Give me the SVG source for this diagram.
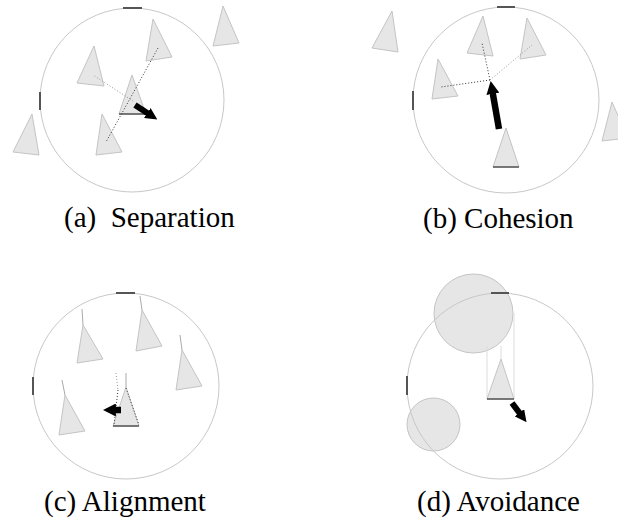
<svg xmlns="http://www.w3.org/2000/svg" width="618" height="522" viewBox="0 0 618 522">
<style>
.rng{fill:none;stroke:#c8c8c8;stroke-width:1}
.boid{fill:#e6e6e6;stroke:#c4c4c4;stroke-width:1}
.obs{fill:#e6e6e6;stroke:#c4c4c4;stroke-width:1}
.base{stroke:#555;stroke-width:1.5}
.tick{stroke:#555;stroke-width:2}
.dot{fill:none;stroke:#333;stroke-width:1;stroke-dasharray:1 2}
.dotl{fill:none;stroke:#999;stroke-width:1;stroke-dasharray:1 2}
.tail{stroke:#aaa;stroke-width:1}
.feel{stroke:#ddd;stroke-width:1}
.arr{stroke:#000;stroke-width:6;marker-end:url(#ah)}
.lbl{font-family:'Liberation Serif','DejaVu Serif',serif;font-size:29px;fill:#000;white-space:pre}
</style>
<defs>
<marker id="ah" viewBox="0 0 10 10" refX="3" refY="5" markerWidth="2" markerHeight="2" orient="auto" markerUnits="strokeWidth">
<path d="M0,0 L10,5 L0,10 z" fill="#000"/>
</marker>
</defs>

<g id="panel-a">
<circle class="rng" cx="132" cy="100" r="92"/>
<line class="tick" x1="123" y1="8" x2="142" y2="8"/>
<line class="tick" x1="40" y1="92" x2="40" y2="110"/>
<g id="a-boid1"><polygon class="boid" points="94,46 77,83 104,86"/></g>
<g id="a-boid2"><polygon class="boid" points="153,19 146,61 172,57"/></g>
<g id="a-boid3"><polygon class="boid" points="223,6 213,46 239,43"/></g>
<g id="a-self"><polygon class="boid" points="132,75 119,114 146,114"/><line class="base" x1="119" y1="114" x2="146" y2="114"/></g>
<g id="a-boid5"><polygon class="boid" points="102,114 96,155 122,152"/></g>
<g id="a-boid6"><polygon class="boid" points="32,114 13,152 39,155"/></g>
<g id="a-links">
<line class="dotl" x1="133" y1="101" x2="93" y2="75"/>
<line class="dot" x1="158" y1="48" x2="106" y2="142"/>
<line class="arr" x1="135" y1="105" x2="150.3" y2="115"/>
</g>
<text class="lbl" font-family="Liberation Serif, DejaVu Serif, serif" x="64" y="227" xml:space="preserve">(a)  Separation</text>
</g>

<g id="panel-b">
<circle class="rng" cx="506" cy="100" r="93"/>
<line class="tick" x1="497" y1="7" x2="515" y2="7"/>
<line class="tick" x1="413" y1="91" x2="413" y2="110"/>
<g id="b-boid1"><polygon class="boid" points="392,11 372,48 398,52"/></g>
<g id="b-boid2"><polygon class="boid" points="483,16 467,53 493,56"/></g>
<g id="b-boid3"><polygon class="boid" points="527,18 520,59 546,55"/></g>
<g id="b-boid4"><polygon class="boid" points="438,59 432,99 458,96"/></g>
<g id="b-self"><polygon class="boid" points="506,128 493,167 519,167"/><line class="base" x1="493" y1="167" x2="519" y2="167"/></g>
<g id="b-boid6"><polygon class="boid" points="612,102 602,141 628,138"/></g>
<g id="b-links">
<line class="dot" x1="490" y1="80" x2="482" y2="43"/>
<line class="dot" x1="490" y1="80" x2="441" y2="87"/>
<line class="dotl" x1="490" y1="80" x2="532" y2="45"/>
<line class="arr" style="stroke-width:6.5" x1="499" y1="129" x2="492.2" y2="90"/>
</g>
<text class="lbl" font-family="Liberation Serif, DejaVu Serif, serif" x="423" y="228">(b) Cohesion</text>
</g>

<g id="panel-c">
<circle class="rng" cx="126" cy="386" r="93"/>
<line class="tick" x1="116" y1="293" x2="135" y2="293"/>
<line class="tick" x1="33" y1="377" x2="33" y2="395"/>
<g id="c-boid1"><line class="tail" x1="82" y1="309" x2="83" y2="325"/><polygon class="boid" points="83,325 77,363 103,359"/></g>
<g id="c-boid2"><line class="tail" x1="140" y1="296" x2="142" y2="310"/><polygon class="boid" points="142,310 136,351 162,346"/></g>
<g id="c-boid3"><line class="tail" x1="180" y1="335" x2="182" y2="350"/><polygon class="boid" points="182,350 176,390 202,386"/></g>
<g id="c-boid4"><line class="tail" x1="62" y1="380" x2="65" y2="395"/><polygon class="boid" points="65,395 59,435 85,431"/></g>
<g id="c-self"><line class="tail" x1="126" y1="373" x2="126" y2="387"/><polygon class="boid" points="126,387 113,426 139,426"/><line class="base" x1="113" y1="426" x2="139" y2="426"/></g>
<g id="c-links">
<line class="dotl" x1="116" y1="373" x2="118" y2="390"/>
<line class="dot" x1="118" y1="390" x2="114" y2="425"/>
<line class="dot" x1="126" y1="388" x2="139" y2="425"/>
<line class="arr" style="stroke-width:6.5" x1="121" y1="410" x2="112" y2="410"/>
</g>
<text class="lbl" font-family="Liberation Serif, DejaVu Serif, serif" x="44" y="511">(c) Alignment</text>
</g>

<g id="panel-d">
<g id="d-obstacle1"><circle class="obs" cx="473.5" cy="313.5" r="39.5"/></g>
<g id="d-obstacle2"><circle class="obs" cx="433.5" cy="424.5" r="26.5"/></g>
<circle class="rng" cx="500" cy="386" r="93"/>
<line class="tick" x1="491" y1="293" x2="509" y2="293"/>
<line class="tick" x1="407" y1="376" x2="407" y2="395"/>
<g id="d-links">
<line class="feel" x1="487" y1="346" x2="487" y2="399"/>
<line class="feel" x1="501" y1="346" x2="501" y2="359"/>
<line class="feel" x1="514" y1="313" x2="514" y2="399"/>
</g>
<g id="d-self"><polygon class="boid" points="501,359 487,399 514,399"/><line class="base" x1="487" y1="399" x2="514" y2="399"/></g>
<line class="arr" x1="512" y1="403" x2="521.5" y2="415.6"/>
<text class="lbl" font-family="Liberation Serif, DejaVu Serif, serif" x="417" y="511">(d) Avoidance</text>
</g>
</svg>
